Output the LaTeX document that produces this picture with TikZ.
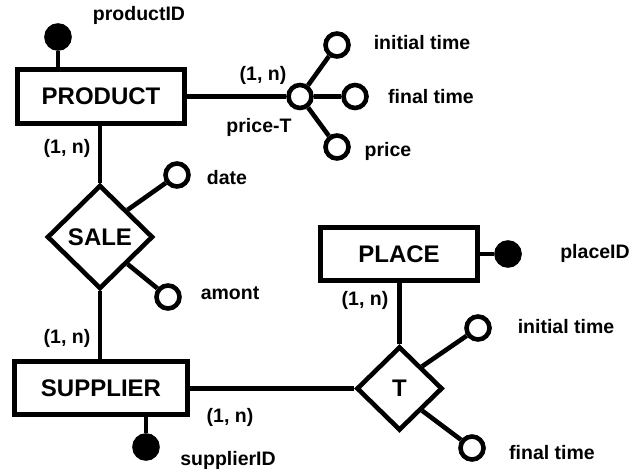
\documentclass[tikz,border=0pt]{standalone}
\usepackage{fontspec}
\setmainfont{Liberation Sans}
\usepackage{tikz}
\usetikzlibrary{
  % diamonds for the relationships
  shapes.geometric,%
  calc,%
  positioning
}
\newcommand\entfont{\fontsize{24}{28}\selectfont\bfseries}
\newcommand\lblfont{\fontsize{19.5}{23}\selectfont\bfseries}
\tikzset{link/.style={line width=4.6pt}}
\tikzset{entity/.style={draw, rectangle, line width=4.6pt, inner sep=0pt,
  minimum height=53.5pt, font=\entfont}}
\tikzset{relation/.style={draw, diamond, line width=4.6pt, inner sep=0pt,
  font=\entfont}}
\tikzset{attr/.style={draw, circle, line width=4.6pt, fill=white,
  minimum size=23pt, inner sep=0pt}}
\tikzset{keyattr/.style={attr, fill=black}}
\tikzset{lbl/.style={font=\lblfont, inner sep=0pt}}

\begin{document}
\begin{tikzpicture}[x=1pt, y=-1pt]
  \useasboundingbox (0, 0) rectangle (634, 473);
  % entities and relationships
  \node[entity, minimum width=167.5pt, minimum height=54.5pt] (product) at (101, 96.5) {PRODUCT};
  \node[entity, minimum width=173.5pt] (supplier) at (101, 388) {SUPPLIER};
  \node[entity, minimum width=157.5pt] (place) at (399, 254) {PLACE};
  \node[relation, minimum width=106pt, minimum height=104pt] (sale) at (100, 237) {SALE};
  \node[relation, minimum width=86pt, minimum height=84pt] (t) at (399.5, 388.5) {T};
  % attributes
  \node[keyattr] (pid) at (58, 37) {};
  \node[keyattr] (sid) at (146, 447) {};
  \node[keyattr] (plid) at (508, 254) {};
  \node[attr] (pricet) at (300, 96.5) {};
  \node[attr] (itime) at (337, 45) {};
  \node[attr] (ftime) at (355, 96.5) {};
  \node[attr] (price) at (337, 147) {};
  \node[attr] (date) at (177, 175) {};
  \node[attr] (amont) at (168, 297) {};
  \node[attr] (titime) at (478, 328) {};
  \node[attr] (tftime) at (472, 448) {};
  % connectors
  \draw[link] (pid) -- (pid |- product.north);
  \draw[link] (sid) -- (sid |- supplier.south);
  \draw[link] (plid) -- (place.east);
  \draw[link] (product.east) -- (pricet);
  \draw[link] (pricet) -- (itime);
  \draw[link] (pricet) -- (ftime);
  \draw[link] (pricet) -- (price);
  \draw[link] (sale.north |- product.south) -- (sale.north);
  \draw[link] (sale.south) -- (sale.south |- supplier.north);
  \draw[link] (sale.north east) -- (date);
  \draw[link] (sale.south east) -- (amont);
  \draw[link] (t.west -| supplier.east) -- (t.west);
  \draw[link] (t.north |- place.south) -- (t.north);
  \draw[link] (t.north east) -- (titime);
  \draw[link] (t.south east) -- (tftime);
  % labels
  \node[lbl] (l-pid) at (139, 15) {productID};
  \node[lbl] (l-sid) at (228, 460) {supplierID};
  \node[lbl] (l-plid) at (595, 253) {placeID};
  \node[lbl] (c-pt) at (263, 75) {(1, n)};
  \node[lbl] (l-pricet) at (259, 127) {price-T};
  \node[lbl] (l-itime) at (422, 43) {initial time};
  \node[lbl] (l-ftime) at (431, 97) {final time};
  \node[lbl] (l-price) at (388, 151) {price};
  \node[lbl] (c-ps) at (67, 148) {(1, n)};
  \node[lbl] (l-date) at (227, 178) {date};
  \node[lbl] (l-amont) at (230, 293) {amont};
  \node[lbl] (c-ss) at (67, 338) {(1, n)};
  \node[lbl] (c-st) at (230, 417) {(1, n)};
  \node[lbl] (c-pl) at (365, 300) {(1, n)};
  \node[lbl] (l-titime) at (566, 327) {initial time};
  \node[lbl] (l-tftime) at (552, 453) {final time};
\end{tikzpicture}
\end{document}
